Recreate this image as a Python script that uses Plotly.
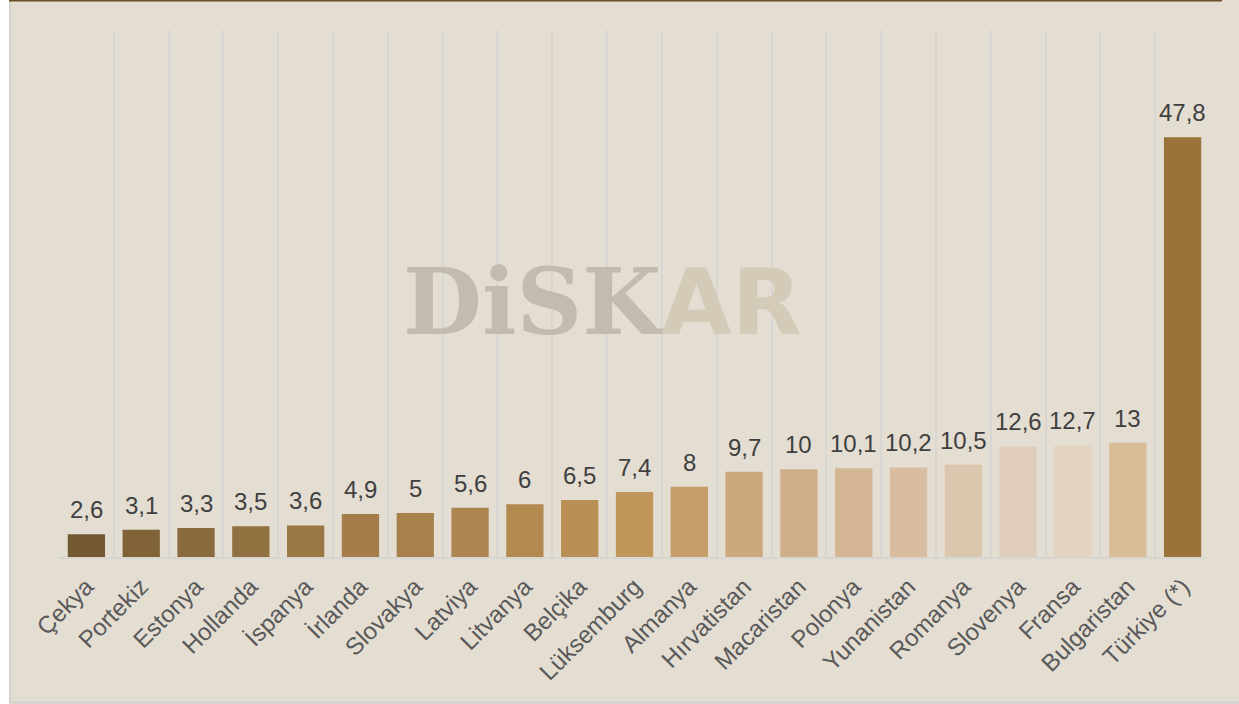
import plotly.graph_objects as go

countries = ["Çekya", "Portekiz", "Estonya", "Hollanda", "İspanya", "İrlanda", "Slovakya",
             "Latviya", "Litvanya", "Belçika", "Lüksemburg", "Almanya", "Hırvatistan",
             "Macaristan", "Polonya", "Yunanistan", "Romanya", "Slovenya", "Fransa",
             "Bulgaristan", "Türkiye (*)"]
values = [2.6, 3.1, 3.3, 3.5, 3.6, 4.9, 5, 5.6, 6, 6.5, 7.4, 8, 9.7, 10, 10.1, 10.2, 10.5,
          12.6, 12.7, 13, 47.8]
bar_colors = ["#735A35", "#806437", "#8A6B3E", "#927140", "#9A7744", "#A47D4A", "#A8804C",
              "#AD8550", "#B2894F", "#B98F55", "#C0965A", "#C49D6A", "#CBA97D", "#CFAF89",
              "#D4B695", "#D8BDA0", "#DBC6AE", "#DFCDBA", "#E3D3C1", "#D9BC98", "#9A733A"]
labels = [f"{v:g}".replace(".", ",") for v in values]

W, H = 1239, 704
ML, MR, MT, MB = 59, 29, 30, 147
PW, PH = W - ML - MR, H - MT - MB


def px(x):
    return (x - ML) / PW


def py(y):
    return (H - MB - y) / PH


fig = go.Figure(go.Bar(
    x=countries, y=values, marker=dict(color=bar_colors, line=dict(width=0)),
    hoverinfo="x+y",
))

for c, v, t in zip(countries, values, labels):
    fig.add_annotation(x=c, y=v, text=t, showarrow=False, yanchor="bottom", yshift=9,
                       font=dict(size=24, color="#404040", family="Liberation Sans, Arial"))

fig.update_layout(
    width=W, height=H,
    margin=dict(l=ML, r=MR, t=MT, b=MB, pad=0),
    paper_bgcolor="#E3DDD2", plot_bgcolor="#E3DDD2",
    bargap=0.32, showlegend=False,
    font=dict(family="Liberation Sans, Arial", color="#595959"),
    xaxis=dict(type="category", tickson="boundaries", showgrid=True, gridcolor="#D8D6D2",
               gridwidth=2, tickangle=-45, ticks="", showline=True, linecolor="#D8D6D2",
               linewidth=2, tickfont=dict(size=24, color="#595959"), ticklabelstandoff=4),
    yaxis=dict(range=[0, 60], showgrid=False, showticklabels=False, zeroline=False,
               showline=False, ticks=""),
)

fig.add_annotation(
    x=px(602), y=py(302), xref="paper", yref="paper", showarrow=False,
    text="DiSK<span style='color:#D3CAB8;font-family:DejaVu Sans'>AR</span>",
    font=dict(size=91, family="DejaVu Serif", color="#C3BBAE", weight="bold"),
    xanchor="center", yanchor="middle",
)

shapes = [
    dict(type="rect", xref="paper", yref="paper", x0=px(-5), x1=px(9), y0=py(720), y1=py(-10),
         fillcolor="#FFFFFF", line=dict(width=0), layer="below"),
    dict(type="line", xref="paper", yref="paper", x0=px(10), x1=px(10), y0=py(703), y1=py(0),
         line=dict(color="#D3D0CB", width=2)),
    dict(type="line", xref="paper", yref="paper", x0=px(9), x1=px(1245), y0=py(702.5), y1=py(702.5),
         line=dict(color="#D3D0CB", width=2)),
    dict(type="line", xref="paper", yref="paper", x0=px(9), x1=px(1222), y0=py(0.5), y1=py(0.5),
         line=dict(color="#6B4F22", width=2)),
]
fig.update_layout(shapes=shapes)

fig.write_html("out.html", config={"displayModeBar": False},
               post_script="document.body.style.margin='0px';")
